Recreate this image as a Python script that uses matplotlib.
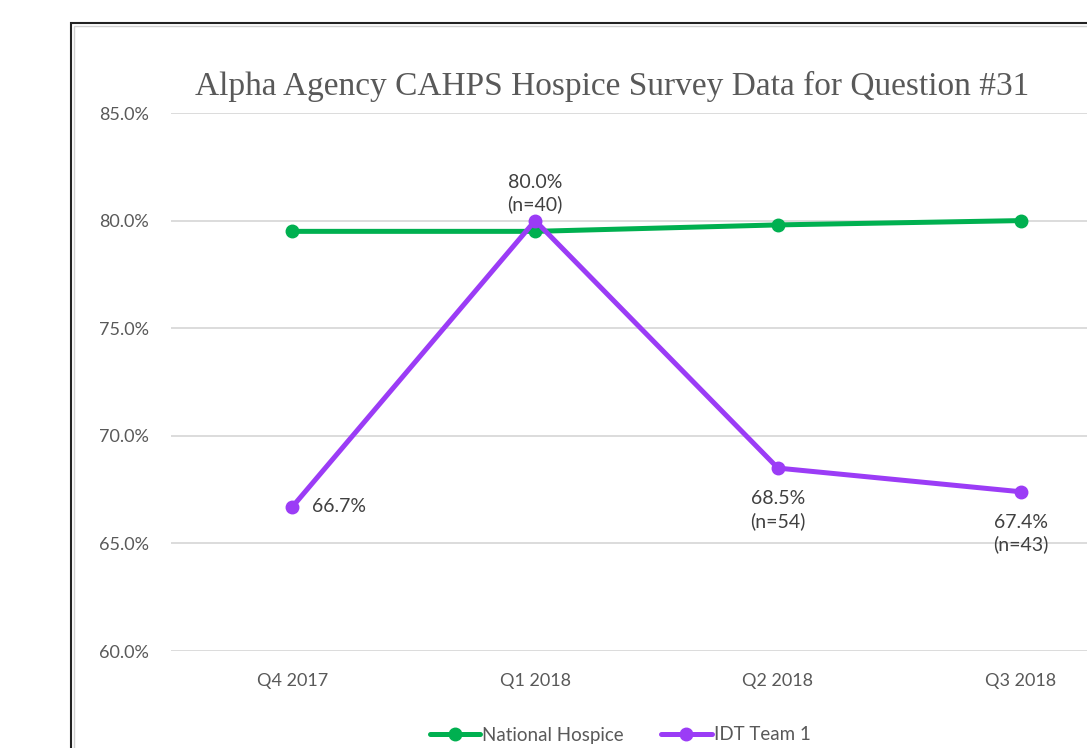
import matplotlib.pyplot as plt
from matplotlib.patches import Rectangle

# Данні з графіка
quarters = ['Q4 2017', 'Q1 2018', 'Q2 2018', 'Q3 2018']
national = [79.5, 79.5, 79.8, 80.0]
idt_team = [66.7, 80.0, 68.5, 67.4]
idt_labels = ['66.7%', '80.0%\n(n=40)', '68.5%\n(n=54)', '67.4%\n(n=43)']
y_ticks = [60, 65, 70, 75, 80, 85]

GREEN = '#00B050'
PURPLE = '#9B3CF6'
GREY = '#595959'
SANS = 'Lato'


def plot_chart():
    fig = plt.figure(figsize=(10.87, 7.48), dpi=100)

    # рамка діаграми (обрізана справа і знизу)
    fig.patches.append(Rectangle((71 / 1087, -0.1), 1.2, 1.1 - 23 / 748,
                                 transform=fig.transFigure, fill=False,
                                 edgecolor='#222222', linewidth=1.5))
    fig.patches.append(Rectangle((74 / 1087, -0.1), 1.2, 1.1 - 26 / 748,
                                 transform=fig.transFigure, fill=False,
                                 edgecolor='#D0D0D0', linewidth=1.0))

    ax = fig.add_axes([171 / 1087, 1 - 651 / 748, 971 / 1087, (651 - 113) / 748])
    x = list(range(len(quarters)))

    ax.plot(x, national, color=GREEN, lw=3.6, marker='o', ms=9,
            label='National Hospice', solid_capstyle='round', zorder=3)
    ax.plot(x, idt_team, color=PURPLE, lw=3.6, marker='o', ms=9,
            label='IDT Team 1', solid_capstyle='round', zorder=4)

    ax.set_xlim(-0.5, len(quarters) - 0.5)
    ax.set_ylim(60, 85)
    ax.set_yticks(y_ticks)
    ax.set_yticklabels([f'{v:.1f}%' for v in y_ticks])
    ax.set_xticks(x)
    ax.set_xticklabels(quarters)
    ax.tick_params(length=0, labelsize=13, labelcolor=GREY, pad=16)
    ax.tick_params(axis='x', pad=16)
    for lbl in ax.get_xticklabels() + ax.get_yticklabels():
        lbl.set_fontfamily(SANS)
    ax.grid(axis='y', color='#D9D9D9', lw=1.3)
    ax.set_axisbelow(True)
    for s in ax.spines.values():
        s.set_visible(False)

    # підписи даних
    offsets = [((14, 0), 'left', 'center'),
               ((0, 5), 'center', 'bottom'),
               ((0, -16), 'center', 'top'),
               ((0, -16), 'center', 'top')]
    for i, (txt, (off, ha, va)) in enumerate(zip(idt_labels, offsets)):
        ax.annotate(txt, (x[i], idt_team[i]), xytext=off, textcoords='offset points',
                    ha=ha, va=va, fontsize=14, color='#404040', family=SANS,
                    linespacing=1.3, zorder=5)

    fig.text(612 / 1087, 1 - 86 / 748,
             'Alpha Agency CAHPS Hospice Survey Data for Question #31',
             ha='center', va='center', fontsize=24, color=GREY,
             family='Liberation Serif')

    leg = fig.legend(loc='center', bbox_to_anchor=(620 / 1087, 1 - 735 / 748),
                     ncol=2, frameon=False, handlelength=2.7,
                     handletextpad=0.1, columnspacing=2.0,
                     prop={'family': SANS, 'size': 13.5})
    for t in leg.get_texts():
        t.set_color(GREY)

    fig.savefig('out.png', dpi=100)


if __name__ == '__main__':
    plot_chart()
